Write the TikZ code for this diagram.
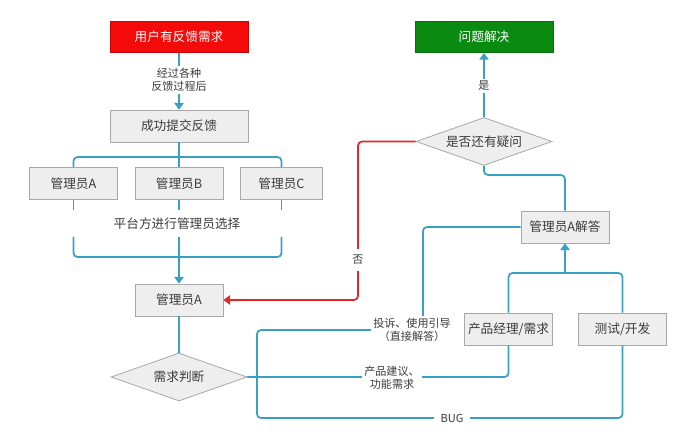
\documentclass[tikz,border=0pt]{standalone}
\usepackage{fontspec}
\setmainfont{Noto Sans CJK SC}
\usepackage{xcolor}
\usetikzlibrary{arrows.meta,shapes.geometric}
\definecolor{LineBlue}{HTML}{3A9FC4}
\definecolor{NoRed}{HTML}{E02A2A}
\definecolor{StartRed}{HTML}{F50A0A}
\definecolor{DoneGreen}{HTML}{0B8A12}
\definecolor{BoxFill}{HTML}{EEEEEE}
\definecolor{BoxBorder}{HTML}{A8A8A8}
\definecolor{TextGray}{HTML}{3C3C3C}
\tikzset{
	graybox/.style={draw=BoxBorder, fill=BoxFill, line width=0.6pt, minimum width=66pt, minimum height=24pt, inner sep=0pt, text=TextGray, font=\fontsize{9.5}{11}\selectfont},
	startbox/.style={graybox, draw=StartRed!80!black, fill=StartRed, text=white, minimum width=103.5pt, minimum height=23.5pt},
	donebox/.style={graybox, draw=DoneGreen!80!black, fill=DoneGreen, text=white, minimum width=103.5pt, minimum height=23.5pt},
	decision/.style={diamond, draw=BoxBorder, fill=BoxFill, line width=0.6pt, aspect=2.8, minimum width=102pt, minimum height=36pt, inner sep=0pt, text=TextGray, font=\fontsize{9.5}{11}\selectfont},
	link/.style={draw=LineBlue, line width=1.3pt, rounded corners=3pt},
	flow/.style={link, -{Triangle[width=7pt,length=5pt]}},
	nolink/.style={draw=NoRed, line width=1.3pt, rounded corners=3pt, -{Triangle[width=7pt,length=5pt]}},
	tag/.style={fill=white, text=TextGray, align=center, inner sep=1.5pt, font=\fontsize{8.3}{10}\selectfont}
}

\begin{document}
\begin{tikzpicture}[x=0.75pt,y=-0.75pt]
	\fill[white] (0,0) rectangle (692,441);

	% Left column
	\node[startbox] (need) at (179,37) {用户有反馈需求};
	\node[graybox, minimum width=103.5pt] (submit) at (179,126) {成功提交反馈};
	\node[graybox] (mgrA) at (73.5,183.5) {管理员A};
	\node[graybox] (mgrB) at (179,183.5) {管理员B};
	\node[graybox, minimum width=61pt] (mgrC) at (281.5,183.5) {管理员C};
	\node[graybox] (adminA) at (179,300) {管理员A};
	\node[decision] (judge) at (179,377) {需求判断};

	% Right column
	\node[donebox] (solved) at (484,37) {问题解决};
	\node[decision] (doubt) at (484,141.5) {是否还有疑问};
	\node[graybox] (answer) at (565,227) {管理员A解答};
	\node[graybox] (prod) at (508.5,329) {产品经理/需求};
	\node[graybox] (test) at (622.5,329) {测试/开发};

	% Junction points
	\coordinate (split) at (179,157);
	\coordinate (pickTop) at (179,237);
	\coordinate (pickJoin) at (179,257);
	\coordinate (fork) at (257,377);
	\coordinate (turnUp) at (423,330);
	\coordinate (bugEnd) at (622.5,418);
	\coordinate (ansJoin) at (565,273);
	\coordinate (backTurn) at (484,175);
	\coordinate (noDown) at (358,300);

	% Connectors
	\draw[flow] (need) -- (submit);
	\draw[link] (submit) -- (mgrB);
	\draw[link] (mgrA.north) |- (split) -| (mgrC.north);
	\draw[link] (mgrA.south) -- ++(0,10);
	\draw[link] (mgrB.south) -- ++(0,10);
	\draw[link] (mgrC.south) -- ++(0,10);
	\draw[link] (mgrA.south |- pickTop) |- (pickJoin) -| (mgrC.south |- pickTop);
	\draw[flow] (pickTop) -- (adminA);
	\draw[link] (adminA) -- (judge);
	\draw[link] (judge.east) -- (fork);
	\draw[link] (fork) |- (turnUp) |- (answer.west);
	\draw[link] (fork) -| (prod.south);
	\draw[link] (fork) |- (bugEnd) -- (test.south);
	\draw[link] (prod.north) |- (ansJoin) -| (test.north);
	\draw[flow] (ansJoin) -- (answer.south);
	\draw[link] (answer.north) |- (backTurn) -- (doubt.south);
	\draw[flow] (doubt.north) -- (solved.south);
	\draw[nolink] (doubt.west) -| (noDown) -- (adminA.east);

	% Labels
	\node[tag] (viaTag) at (179,80) {经过各种\\反馈过程后};
	\node[tag, font=\fontsize{9.5}{11}\selectfont] (pickTag) at (177,224) {平台方进行管理员选择};
	\node[tag] (yesTag) at (484,86) {是};
	\node[tag, inner ysep=5pt] (noTag) at (358,260) {否};
	\node[tag] (directTag) at (412,330) {投诉、使用引导\\（直接解答）};
	\node[tag] (ideaTag) at (392,378) {产品建议、\\功能需求};
	\node[tag, inner xsep=5pt] (bugTag) at (452,418) {BUG};
\end{tikzpicture}
\end{document}
